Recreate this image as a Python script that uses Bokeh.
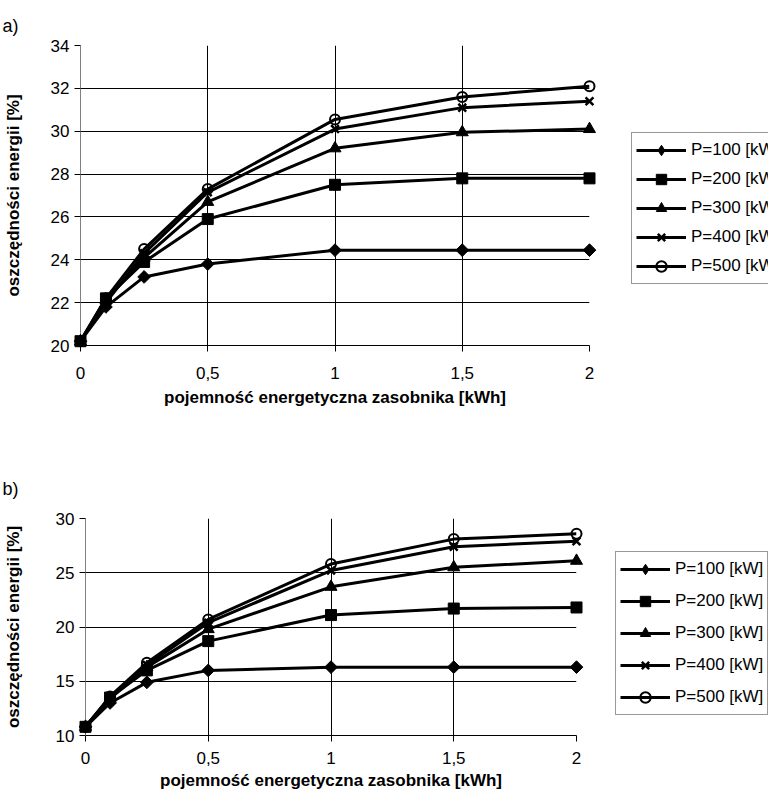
import math
from bokeh.plotting import figure
from bokeh.models import Range1d, FixedTicker, Legend, LegendItem
from bokeh.layouts import column, row
from bokeh.embed import file_html
from bokeh.resources import INLINE

# ---------------- data ----------------
x_kwh = [0, 0.1, 0.25, 0.5, 1, 1.5, 2]
series_labels = ["P=100 [kW]", "P=200 [kW]", "P=300 [kW]", "P=400 [kW]", "P=500 [kW]"]

# chart a)
a_p100 = [20.2, 21.8, 23.2, 23.8, 24.45, 24.45, 24.45]
a_p200 = [20.2, 22.2, 23.9, 25.9, 27.5, 27.8, 27.8]
a_p300 = [20.2, 22.1, 24.1, 26.7, 29.2, 29.95, 30.1]
a_p400 = [20.2, 22.0, 24.3, 27.15, 30.1, 31.1, 31.4]
a_p500 = [20.2, 22.2, 24.5, 27.3, 30.55, 31.6, 32.1]

# chart b)
b_p100 = [10.8, 13.0, 14.9, 16.0, 16.3, 16.3, 16.3]
b_p200 = [10.8, 13.5, 16.0, 18.7, 21.1, 21.7, 21.8]
b_p300 = [10.8, 13.4, 16.3, 19.8, 23.7, 25.5, 26.1]
b_p400 = [10.8, 13.5, 16.5, 20.4, 25.2, 27.4, 27.9]
b_p500 = [10.8, 13.6, 16.7, 20.7, 25.8, 28.1, 28.6]

x_ticks = [0, 0.5, 1, 1.5, 2]
x_tick_labels = ["0", "0,5", "1", "1,5", "2"]
a_y_ticks = [20, 22, 24, 26, 28, 30, 32, 34]
b_y_ticks = [10, 15, 20, 25, 30]

x_title = "pojemność energetyczna zasobnika [kWh]"
y_title = "oszczędności energii [%]"

FONT = "Liberation Sans"
LINE_W = 3

# marker styles per series in the charts: (marker, size, angle, fill, line width)
marker_styles = [
    ("square", 9, math.pi / 4, "black", 1),
    ("square", 11, 0, "black", 1),
    ("triangle", 12, 0, "black", 1),
    ("x", 11, 0, None, 2.5),
    ("circle", 10, 0, None, 2),
]
# legend samples (the legend cannot rotate a marker, so it uses the diamond)
legend_markers = [
    ("diamond", "black", 1),
    ("square", "black", 1),
    ("triangle", "black", 1),
    ("x", None, 2.5),
    ("circle", None, 2),
]


def make_chart(tag, series, y_ticks, width, height, bl, bt, br, bb,
               x_lab_standoff, x_axis_standoff, y_axis_standoff,
               title_offset, title_standoff):
    p = figure(width=width, height=height,
               x_range=Range1d(x_ticks[0], x_ticks[-1]),
               y_range=Range1d(y_ticks[0], y_ticks[-1]),
               output_backend="svg", toolbar_location=None,
               min_border_left=bl, min_border_top=bt,
               min_border_right=br, min_border_bottom=bb)
    p.outline_line_color = None
    p.background_fill_color = "white"
    p.border_fill_color = "white"

    # title tag a) / b)
    p.title.text = tag
    p.title.align = "left"
    p.title.offset = title_offset
    p.title.standoff = title_standoff
    p.title.text_font = FONT
    p.title.text_font_size = "18px"
    p.title.text_font_style = "normal"
    p.title.text_color = "black"

    # axes
    p.xaxis.ticker = FixedTicker(ticks=x_ticks)
    p.xaxis.major_label_overrides = {t: l for t, l in zip(x_ticks, x_tick_labels)}
    p.yaxis.ticker = FixedTicker(ticks=y_ticks)
    for ax in (p.xaxis[0], p.yaxis[0]):
        ax.major_tick_in = 0
        ax.major_tick_out = 6
        ax.minor_tick_line_color = None
        ax.major_tick_line_color = "black"
        ax.major_label_text_font = FONT
        ax.major_label_text_font_size = "17px"
        ax.major_label_text_color = "black"
        ax.axis_label_text_font = FONT
        ax.axis_label_text_font_size = "17px"
        ax.axis_label_text_font_style = "bold"
        ax.axis_label_text_color = "black"
    p.xaxis.axis_line_color = "black"
    p.yaxis.axis_line_color = "#808080"
    p.xaxis.axis_label = x_title
    p.yaxis.axis_label = y_title
    p.xaxis.major_label_standoff = x_lab_standoff
    p.xaxis.axis_label_standoff = x_axis_standoff
    p.yaxis.major_label_standoff = 5
    p.yaxis.axis_label_standoff = y_axis_standoff

    # grids
    p.xgrid.grid_line_color = "black"
    p.ygrid.grid_line_color = "black"
    p.xgrid.grid_line_width = 1
    p.ygrid.grid_line_width = 1

    for ys, (mk, sz, ang, fill, lw) in zip(series, marker_styles):
        p.line(x_kwh, ys, line_color="black", line_width=LINE_W)
        p.scatter(x_kwh, ys, marker=mk, size=sz, angle=ang,
                  fill_color=fill, line_color="black", line_width=lw,
                  level="overlay")
    return p


def make_legend_panel(series, width, height, loc, spacing):
    # a figure that only carries the legend; its sample renderers use the
    # series data but the ranges keep them out of view
    lf = figure(width=width, height=height, x_axis_type=None, y_axis_type=None,
                x_range=Range1d(-3, -2), y_range=Range1d(-3, -2),
                output_backend="svg", toolbar_location=None,
                min_border_left=0, min_border_right=0,
                min_border_top=0, min_border_bottom=0)
    lf.outline_line_color = None
    lf.background_fill_color = "white"
    lf.border_fill_color = "white"
    lf.xgrid.visible = False
    lf.ygrid.visible = False
    items = []
    for lab, ys, (mk, fill, lw) in zip(series_labels, series, legend_markers):
        lr = lf.line(x_kwh, ys, line_color="black", line_width=LINE_W)
        sr = lf.scatter(x_kwh, ys, marker=mk, size=10,
                        fill_color=fill, line_color="black", line_width=lw)
        items.append(LegendItem(label=lab, renderers=[lr, sr]))
    legend = Legend(items=items, location=loc,
                    label_text_font=FONT, label_text_font_size="17px",
                    label_text_color="black",
                    glyph_width=50, glyph_height=26, label_height=26,
                    label_standoff=5, padding=4, spacing=spacing,
                    margin=0, border_line_color="#333333", border_line_width=1,
                    background_fill_color="white", background_fill_alpha=1)
    lf.add_layout(legend)
    return lf


a_series = [a_p100, a_p200, a_p300, a_p400, a_p500]
b_series = [b_p100, b_p200, b_p300, b_p400, b_p500]

top = make_chart("a)", a_series, a_y_ticks,
                 width=619, height=432, bl=80, bt=45, br=30, bb=87,
                 x_lab_standoff=15, x_axis_standoff=6, y_axis_standoff=25,
                 title_offset=-78, title_standoff=19)
top_leg = make_legend_panel(a_series, 149, 432, (12, 61), 3)

bottom = make_chart("b)", b_series, b_y_ticks,
                    width=605, height=362, bl=85, bt=86, br=29, bb=59,
                    x_lab_standoff=10, x_axis_standoff=4, y_axis_standoff=30,
                    title_offset=-83, title_standoff=39)
bottom_leg = make_legend_panel(b_series, 163, 362, (10, 20), 6)

layout = column(row(top, top_leg, spacing=0), row(bottom, bottom_leg, spacing=0), spacing=0)

open("out.html", "w").write(file_html(layout, INLINE))
